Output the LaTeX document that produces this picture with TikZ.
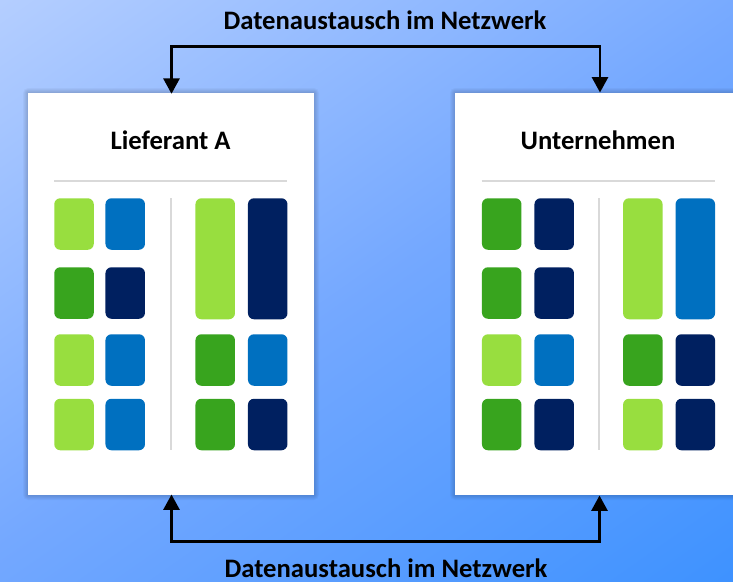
\documentclass[tikz,border=0pt]{standalone}
\usepackage{fontspec}
\setmainfont{Carlito}
\usetikzlibrary{arrows.meta}
\definecolor{lime}{HTML}{98DE3F}
\definecolor{grn}{HTML}{38A41E}
\definecolor{blu}{HTML}{0070C0}
\definecolor{nvy}{HTML}{002060}
\definecolor{bgA}{HTML}{B4CEFF}
\definecolor{bgB}{HTML}{74A8FF}
\definecolor{bgC}{HTML}{3E92FF}
\definecolor{rulec}{HTML}{D9D9D9}
\pgfdeclareverticalshading{bgshade}{100bp}{color(0bp)=(bgC); color(25bp)=(bgC); color(50bp)=(bgB); color(75bp)=(bgA); color(100bp)=(bgA)}
\tikzset{
  card/.style={fill=white,draw=none,minimum width=286*0.75pt,minimum height=402*0.75pt,inner sep=0pt,anchor=north west},
  tile/.style={rounded corners=4.5pt,draw=none,inner sep=0pt,anchor=north west,minimum width=39.5*0.75pt},
  short/.style={tile,minimum height=51.5*0.75pt},
  tall/.style={tile,minimum height=121*0.75pt},
  lab/.style={font=\bfseries\fontsize{20pt}{24pt}\selectfont,text=black,inner sep=0pt},
  conn/.style={line width=1.9pt,draw=black},
  rulel/.style={line width=1.5pt,draw=rulec},
  tip/.style={-{Triangle[length=11.5pt,width=12pt]}}
}
\begin{document}
\begin{tikzpicture}[x=0.75pt,y=-0.75pt]
\useasboundingbox (0,0) rectangle (733,582);
\clip (0,0) rectangle (733,582);
% background gradient
\path[shading=bgshade,shading angle=35] (-81,-156.5) rectangle (814,738.5);
% card shadows
\foreach \cx in {28,455}{
  \foreach \s in {5,4,3,2,1}{
    \fill[black,opacity=0.032,rounded corners=\s*0.75pt] (\cx-\s,93-\s) rectangle (\cx+286+\s,495+\s);
  }
}
% cards
\node[card] (cardA) at (28,93) {};
\node[card] (cardB) at (455,93) {};
% titles
\node[lab] (titleA) at (170.5,140.5) {Lieferant A};
\node[lab] (titleB) at (598,140.5) {Unternehmen};
% rules
\coordinate (ha1) at (54,180.5); \coordinate (ha2) at (287,180.5);
\coordinate (va1) at (170.5,198); \coordinate (va2) at (170.5,450);
\coordinate (hb1) at (481.5,180.5); \coordinate (hb2) at (715,180.5);
\coordinate (vb1) at (598.5,198); \coordinate (vb2) at (598.5,450);
\draw[rulel] (ha1) -- (ha2);
\draw[rulel] (va1) -- (va2);
\draw[rulel] (hb1) -- (hb2);
\draw[rulel] (vb1) -- (vb2);
% tiles left card
\node[short,fill=lime] (a11) at (54,198) {};
\node[short,fill=blu]  (a12) at (105.2,198) {};
\node[short,fill=grn]  (a21) at (54,267) {};
\node[short,fill=nvy]  (a22) at (105.2,267) {};
\node[short,fill=lime] (a31) at (54,334) {};
\node[short,fill=blu]  (a32) at (105.2,334) {};
\node[short,fill=lime] (a41) at (54,398.5) {};
\node[short,fill=blu]  (a42) at (105.2,398.5) {};
\node[tall,fill=lime]  (a13) at (195.2,198) {};
\node[tall,fill=nvy]   (a14) at (247.7,198) {};
\node[short,fill=grn]  (a33) at (195.2,334) {};
\node[short,fill=blu]  (a34) at (247.7,334) {};
\node[short,fill=grn]  (a43) at (195.2,398.5) {};
\node[short,fill=nvy]  (a44) at (247.7,398.5) {};
% tiles right card
\node[short,fill=grn]  (b11) at (481.7,198) {};
\node[short,fill=nvy]  (b12) at (534.2,198) {};
\node[short,fill=grn]  (b21) at (481.7,267) {};
\node[short,fill=nvy]  (b22) at (534.2,267) {};
\node[short,fill=lime] (b31) at (481.7,334) {};
\node[short,fill=blu]  (b32) at (534.2,334) {};
\node[short,fill=grn]  (b41) at (481.7,398.5) {};
\node[short,fill=nvy]  (b42) at (534.2,398.5) {};
\node[tall,fill=lime]  (b13) at (622.8,198) {};
\node[tall,fill=blu]   (b14) at (675.3,198) {};
\node[short,fill=grn]  (b33) at (622.8,334) {};
\node[short,fill=nvy]  (b34) at (675.3,334) {};
\node[short,fill=lime] (b43) at (622.8,398.5) {};
\node[short,fill=nvy]  (b44) at (675.3,398.5) {};
% connectors
\coordinate (topA) at (171.5,46.5);
\coordinate (topB) at (600,46.5);
\coordinate (botA) at (171.5,541.5);
\coordinate (botB) at (599.5,541.5);
\draw[conn,tip] (topA) -- (171.5,93.8);
\draw[conn,tip] (topB) -- (600,92.5);
\draw[conn] ([xshift=-0.95pt]topA) -- ([xshift=0.95pt]topB);
\draw[conn,tip] (botA) -- (171.5,494.5);
\draw[conn,tip] (botB) -- (599.5,495.5);
\draw[conn] ([xshift=-0.95pt]botA) -- ([xshift=0.95pt]botB);
% labels
\node[lab] (labTop) at (385,20) {Datenaustausch im Netzwerk};
\node[lab] (labBot) at (386,568.5) {Datenaustausch im Netzwerk};
\end{tikzpicture}
\end{document}
